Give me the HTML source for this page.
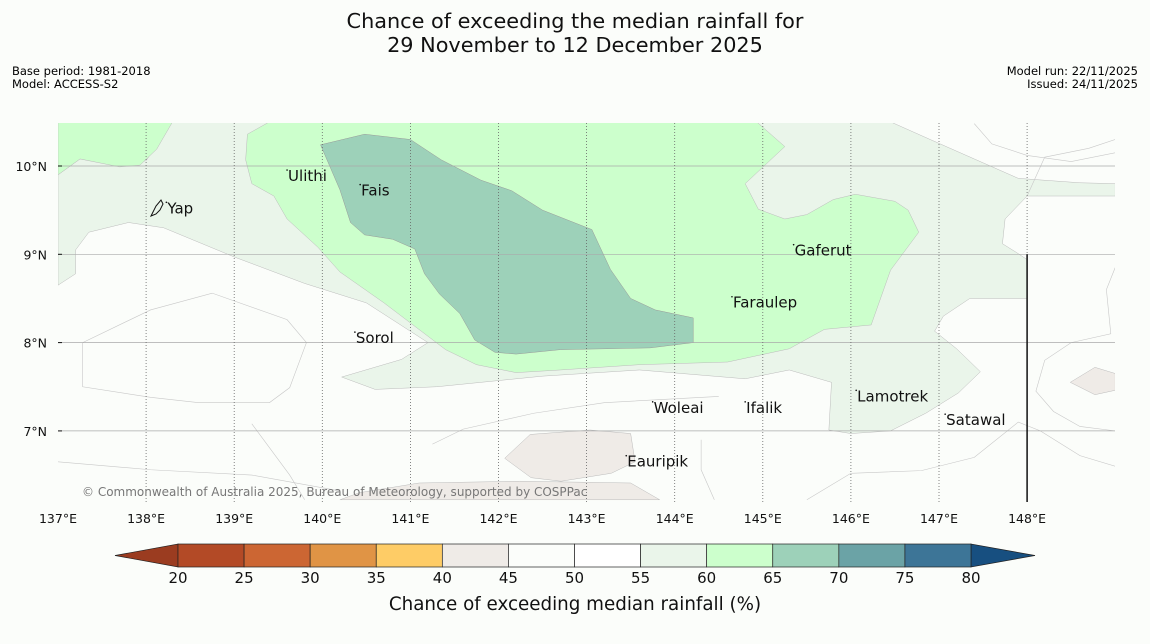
<!DOCTYPE html>
<html><head><meta charset="utf-8">
<style>
body{margin:0;background:#fbfdfa;font-family:"DejaVu Sans","Liberation Sans",sans-serif;}
#wrap{position:relative;width:1150px;height:644px;overflow:hidden;background:#fbfdfa;}
.t{position:absolute;}
</style></head>
<body>
<div id="wrap">
<div class="t" style="left:0;width:1150px;top:9px;text-align:center;font-size:20.8px;line-height:24px;color:#111;font-family:'DejaVu Sans',sans-serif">Chance of exceeding the median rainfall for<br>29 November to 12 December 2025</div>
<div class="t" style="left:12px;top:65px;font-size:11.5px;line-height:13px;font-family:'DejaVu Sans',sans-serif">Base period: 1981-2018<br>Model: ACCESS-S2</div>
<div class="t" style="right:12px;top:65px;font-size:11.5px;line-height:13px;text-align:right;font-family:'DejaVu Sans',sans-serif">Model run: 22/11/2025<br>Issued: 24/11/2025</div>
<svg id="svg" width="1150" height="644" style="position:absolute;left:0;top:0"></svg>
</div>
<script>
const lonTicks=[137,138,139,140,141,142,143,144,145,146,147,148];
const latTicks=[10,9,8,7];
const cbBounds=[20,25,30,35,40,45,50,55,60,65,70,75,80];
const cbColors=["#b34a26","#cc6633","#e09445","#fecc66","#efebe7","#fbfdfa","#ffffff","#eaf5ea","#ccffcc","#9dd1b9","#6ba3a6","#3d7597"];
const places=["Yap","Ulithi","Fais","Gaferut","Faraulep","Sorol","Woleai","Ifalik","Lamotrek","Satawal","Eauripik"];
const placeLon=[138.23,139.60,140.43,145.35,144.65,140.37,143.75,144.80,146.06,147.07,143.45];
const placeLat=[9.51,9.875,9.71,9.03,8.44,8.04,7.25,7.25,7.38,7.11,6.64];
// contour polygons [lon,lat]
const zone5560=[[137,9.9],[137.25,10.08],[137.7,10.0],[138.0,10.06],[138.3,10.5],[143.2,10.5],[146.45,10.5],[146.9,10.3],[147.4,10.08],[147.9,9.86],[148.6,9.81],[149.0,9.8],[149.0,9.66],[148.6,9.66],[148.0,9.66],[147.75,9.4],[147.72,9.12],[147.88,9.02],[148.0,8.94],[148.0,8.5],[147.35,8.5],[147.05,8.3],[146.95,8.13],[147.2,7.93],[147.47,7.67],[147.22,7.43],[146.85,7.2],[146.45,7.0],[146.0,6.97],[145.75,7.01],[145.78,7.55],[145.3,7.69],[144.8,7.59],[143.6,7.69],[142.5,7.62],[141.3,7.5],[140.6,7.47],[140.22,7.61],[140.9,7.81],[141.2,8.0],[140.5,8.45],[139.8,8.67],[139.0,8.97],[138.2,9.3],[137.8,9.36],[137.35,9.25],[137.2,9.05],[137.2,8.78],[137,8.65]];
const zone6065=[[137,10.5],[138.3,10.5],[138.12,10.19],[137.93,10.01],[137.7,9.99],[137.25,10.08],[137,9.9]];
const zone6065b=[[139.15,10.36],[139.4,10.5],[144.93,10.5],[145.25,10.22],[144.8,9.8],[144.95,9.51],[145.25,9.4],[145.5,9.45],[145.8,9.62],[146.05,9.68],[146.5,9.6],[146.65,9.5],[146.77,9.25],[146.45,8.82],[146.23,8.2],[145.7,8.15],[145.3,7.93],[144.6,7.78],[143.6,7.75],[142.7,7.69],[142.2,7.66],[141.75,7.75],[141.4,7.92],[140.7,8.45],[140.2,8.8],[139.95,9.08],[139.6,9.4],[139.45,9.66],[139.2,9.8],[139.13,10.07]];
const zone6570=[[139.98,10.24],[140.48,10.36],[141.0,10.3],[141.35,10.07],[141.8,9.84],[142.15,9.72],[142.5,9.5],[143.06,9.28],[143.27,8.83],[143.5,8.5],[143.78,8.37],[144.21,8.28],[144.21,8.0],[143.72,7.94],[142.7,7.92],[142.2,7.87],[141.96,7.89],[141.73,8.03],[141.56,8.33],[141.33,8.55],[141.16,8.78],[141.05,9.06],[140.8,9.17],[140.48,9.22],[140.32,9.36],[140.2,9.73]];
const zone4045a=[[142.07,6.69],[142.36,6.96],[143.04,7.01],[143.5,6.97],[143.55,6.65],[143.28,6.52],[142.71,6.43],[142.37,6.47]];
const zone4045b=[[140.42,6.3],[141.1,6.41],[142.24,6.43],[143.5,6.41],[143.83,6.22],[140.2,6.22]];
const zone4045c=[[148.49,7.55],[148.77,7.72],[149.0,7.65],[149.0,7.46],[148.77,7.41]];
const lines=[
[[137.28,8.0],[138.05,8.37],[138.75,8.56],[139.6,8.26],[139.82,8.0],[139.63,7.49],[139.4,7.32],[138.6,7.32],[138.05,7.38],[137.28,7.5],[137.28,8.0]],
[[137,6.65],[138.05,6.56],[139.2,6.5],[140.2,6.32]],
[[139.2,7.08],[139.63,6.5],[139.8,6.22]],
[[141.25,6.85],[141.6,7.02],[142.4,7.2],[143.2,7.32],[144.5,7.39]],
[[144.45,6.22],[144.3,6.56],[144.3,6.9]],
[[145.5,6.22],[146.0,6.52],[146.8,6.55],[147.4,6.7],[147.9,7.1],[148.15,7.0],[148.6,6.72],[149,6.6]],
[[149,8.85],[148.9,8.6],[148.95,8.1],[148.5,8.0],[148.2,7.8],[148.1,7.45],[148.3,7.22],[148.6,7.05],[149,7.0]],
[[148.0,9.66],[148.2,10.1],[148.7,10.2],[149,10.3]],
[[147.4,10.48],[147.6,10.25],[148.0,10.12],[148.5,10.05],[149,10.15]]
];
const NS="http://www.w3.org/2000/svg";
const svg=document.getElementById('svg');
const X=lon=>58+(lon-137)*88.1;
const Y=lat=>166+(10-lat)*88.3;
function mk(tag,at){const e=document.createElementNS(NS,tag);for(const k in at)e.setAttribute(k,at[k]);svg.appendChild(e);return e;}
const clip=document.createElementNS(NS,'clipPath');clip.setAttribute('id','mc');
const cr=document.createElementNS(NS,'rect');cr.setAttribute('x',58);cr.setAttribute('y',123);cr.setAttribute('width',1057);cr.setAttribute('height',379);clip.appendChild(cr);svg.appendChild(clip);
const g=mk('g',{'clip-path':'url(#mc)'});


function poly(pts,fill,stroke,name){const e=document.createElementNS(NS,'polygon');e.setAttribute('points',pts.map(p=>X(p[0])+','+Y(p[1])).join(' '));e.setAttribute('fill',fill);e.setAttribute('stroke',stroke);e.setAttribute('stroke-width','0.5');


g.appendChild(e);}
poly(zone5560,cbColors[7],'#bbb','zone-55-60');
poly(zone6065,cbColors[8],'#bbb','zone-60-65-west');
poly(zone6065b,cbColors[8],'#bbb','zone-60-65');
poly(zone6570,cbColors[9],'#999','zone-65-70');
poly(zone4045a,cbColors[4],'#bbb','zone-40-45-a');
poly(zone4045b,cbColors[4],'#bbb','zone-40-45-b');
poly(zone4045c,cbColors[4],'#bbb','zone-40-45-c');
lines.forEach((l,i)=>{const e=document.createElementNS(NS,'polyline');e.setAttribute('points',l.map(p=>X(p[0])+','+Y(p[1])).join(' '));e.setAttribute('fill','none');e.setAttribute('stroke','#c8c8c8');e.setAttribute('stroke-width','0.6');


g.appendChild(e);});
latTicks.forEach(v=>{const e=document.createElementNS(NS,'line');e.setAttribute('x1',58);e.setAttribute('x2',1115);e.setAttribute('y1',Y(v));e.setAttribute('y2',Y(v));e.setAttribute('stroke','#aaa');e.setAttribute('stroke-width','0.7');


g.appendChild(e);});
lonTicks.slice(1).forEach(v=>{const e=document.createElementNS(NS,'line');e.setAttribute('x1',X(v));e.setAttribute('x2',X(v));e.setAttribute('y1',123);e.setAttribute('y2',502);e.setAttribute('stroke','#666');e.setAttribute('stroke-width','0.8');e.setAttribute('stroke-dasharray','1,2');


g.appendChild(e);});
const bl=mk('line',{x1:X(148),x2:X(148),y1:Y(9),y2:502,stroke:'#111','stroke-width':1.5});


const yapI=mk('path',{d:'M151,216 L156,206 L161,200 L163,204 L160,210 L156,214 Z',fill:'none',stroke:'#111','stroke-width':1});


places.forEach((p,i)=>{const d=mk('circle',{cx:X(placeLon[i]),cy:Y(placeLat[i])-7,r:0.8,fill:'#111'});


const t=mk('text',{x:X(placeLon[i])+1,y:Y(placeLat[i])+4,'font-size':15,fill:'#111','font-family':'DejaVu Sans, sans-serif'});t.textContent=p;

});
lonTicks.forEach(v=>{const t=mk('text',{x:X(v),y:523,'text-anchor':'middle','font-size':12.5,fill:'#111','font-family':'DejaVu Sans, sans-serif'});t.textContent=v+'°E';

});
latTicks.forEach(v=>{const t=mk('text',{x:47,y:Y(v)+5,'text-anchor':'end','font-size':12.5,fill:'#111','font-family':'DejaVu Sans, sans-serif'});t.textContent=v+'°N';


const k=mk('line',{x1:58,x2:62,y1:Y(v),y2:Y(v),stroke:'#111'});

});
const cp=mk('text',{x:82,y:496,'font-size':12,fill:'#777','font-family':'DejaVu Sans, sans-serif'});cp.textContent='© Commonwealth of Australia 2025, Bureau of Meteorology, supported by COSPPac';


// colorbar
const CX=v=>178+(v-20)*(971-178)/60;
const cy0=544,cy1=567;
const lt=mk('polygon',{points:`${CX(20)},${cy0} ${CX(20)},${cy1} 115,${(cy0+cy1)/2}`,fill:'#9b3c20',stroke:'#222','stroke-width':0.7});


const rt=mk('polygon',{points:`${CX(80)},${cy0} ${CX(80)},${cy1} 1035,${(cy0+cy1)/2}`,fill:'#174f80',stroke:'#222','stroke-width':0.7});


cbColors.forEach((c,i)=>{const r=mk('rect',{x:CX(cbBounds[i]),y:cy0,width:CX(cbBounds[i+1])-CX(cbBounds[i]),height:cy1-cy0,fill:c,stroke:'#222','stroke-width':0.7});

});
cbBounds.forEach(v=>{const t=mk('text',{x:CX(v),y:583,'text-anchor':'middle','font-size':15,fill:'#111','font-family':'DejaVu Sans, sans-serif'});t.textContent=v;

});
const ct=mk('text',{x:575,y:610,'text-anchor':'middle','font-size':18.3,fill:'#111','font-family':'DejaVu Sans, sans-serif'});ct.textContent='Chance of exceeding median rainfall (%)';


</script>
</body></html>
